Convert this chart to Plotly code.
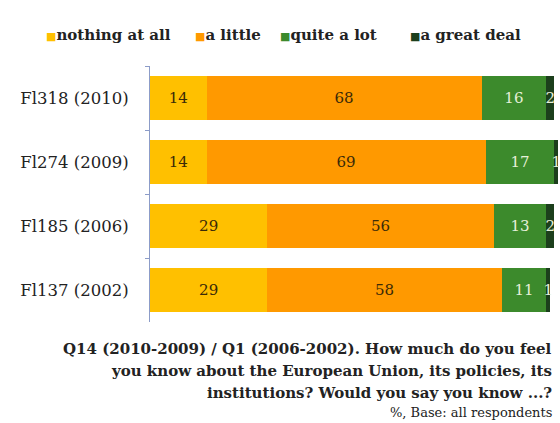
import plotly.graph_objects as go

categories = ["Fl318 (2010)", "Fl274 (2009)", "Fl185 (2006)", "Fl137 (2002)"]
series_names = ["nothing at all", "a little", "quite a lot", "a great deal"]
nothing_at_all = [14, 14, 29, 29]
a_little = [68, 69, 56, 58]
quite_a_lot = [16, 17, 13, 11]
a_great_deal = [2, 1, 2, 1]
colors = ["#FFC000", "#FF9900", "#3C8A2C", "#1C3F1C"]
text_colors = ["#3A2A08", "#3A2A08", "#E6F0D8", "#E6F0D8"]

FONT = "DejaVu Serif"
L, R, T, B = 150, 0, 66, 101
PW, PH = 560 - L - R, 423 - T - B


def px(x):
    return (x - L) / PW


def py(y):
    return (423 - B - y) / PH


fig = go.Figure()
for name, vals, col, tcol in zip(series_names,
                                 [nothing_at_all, a_little, quite_a_lot, a_great_deal],
                                 colors, text_colors):
    fig.add_trace(go.Bar(
        y=categories, x=vals, name=name, orientation="h",
        marker=dict(color=col, line=dict(width=0)),
        text=vals, textposition="inside", insidetextanchor="middle",
        textfont=dict(family=FONT, size=15, color=tcol),
        cliponaxis=False,
        showlegend=False,
    ))

fig.update_layout(
    barmode="stack",
    bargap=0.3,
    width=560, height=423,
    margin=dict(l=L, r=R, t=T, b=B),
    paper_bgcolor="white", plot_bgcolor="white",
    uniformtext=dict(minsize=15, mode="show"),
    xaxis=dict(range=[0, 101.4], visible=False, fixedrange=True),
    yaxis=dict(
        autorange="reversed", showgrid=False,
        showline=True, linecolor="#8C9CC8", linewidth=1,
        ticks="outside", tickson="boundaries", ticklen=4, tickcolor="#8C9CC8",
        tickfont=dict(family=FONT, size=16.5, color="#222222"),
        ticklabelstandoff=17,
    ),
)

# legend as text items
leg_x = [44, 193, 278, 408]
for name, col, lx in zip(series_names, colors, leg_x):
    fig.add_annotation(
        x=px(lx), y=py(35), xref="paper", yref="paper", showarrow=False,
        xanchor="left", yanchor="middle",
        text=f"<span style='color:{col};font-size:11px'>■</span><b>{name}</b>",
        font=dict(family=FONT, size=15, color="#222222"),
    )

footer_lines = [
    ("Q14 (2010-2009) / Q1 (2006-2002). How much do you feel", 349),
    ("you know about the European Union, its policies, its", 371),
    ("institutions? Would you say you know ...?", 393),
]
for line, y in footer_lines:
    fig.add_annotation(
        x=px(554), y=py(y), xref="paper", yref="paper",
        showarrow=False, xanchor="right", yanchor="middle",
        text=f"<b>{line}</b>", font=dict(family=FONT, size=15, color="#222222"),
    )
fig.add_annotation(
    x=px(554), y=py(412), xref="paper", yref="paper",
    showarrow=False, xanchor="right", yanchor="middle",
    text="%, Base: all respondents", font=dict(family=FONT, size=13, color="#222222"),
)

fig.write_html("out.html")
